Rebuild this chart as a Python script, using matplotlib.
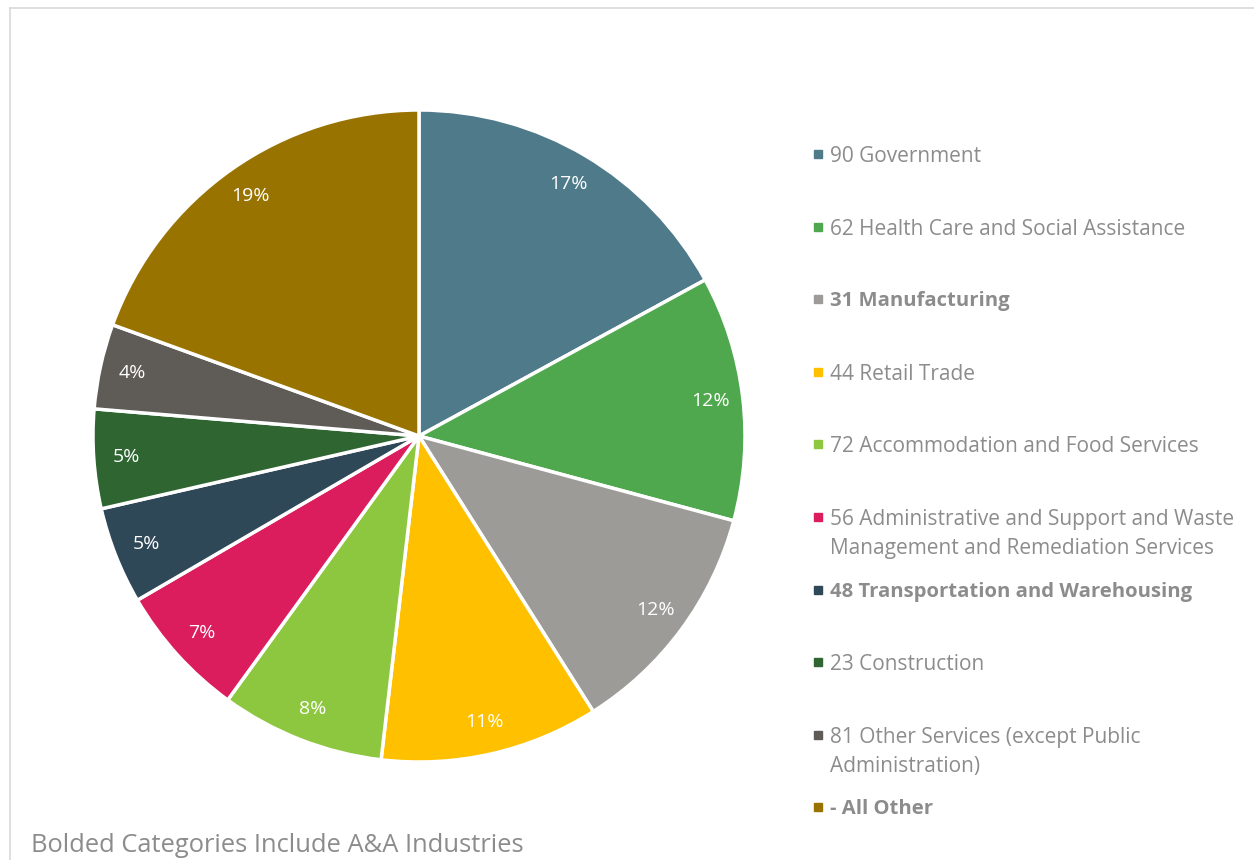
import matplotlib
matplotlib.use("Agg")
import matplotlib.pyplot as plt
from matplotlib.patches import Rectangle
from matplotlib.lines import Line2D

categories = [
    "90 Government",
    "62 Health Care and Social Assistance",
    "31 Manufacturing",
    "44 Retail Trade",
    "72 Accommodation and Food Services",
    "56 Administrative and Support and Waste\nManagement and Remediation Services",
    "48 Transportation and Warehousing",
    "23 Construction",
    "81 Other Services (except Public\nAdministration)",
    "- All Other",
]
values = [17.0, 12.1, 11.8, 10.8, 8.1, 6.6, 4.8, 4.9, 4.2, 19.4]
bolded = [False, False, True, False, False, False, True, False, False, True]
colors = ["#4E7A8A", "#50A84E", "#9D9B98", "#FFC000", "#8DC63F",
          "#DB1C5D", "#2F4858", "#2E6531", "#5F5B57", "#997300"]

W, H = 1254, 860
fig = plt.figure(figsize=(W / 100, H / 100), dpi=100)
fig.patch.set_facecolor("white")

# frame lines (chart area border)
fig.add_artist(Line2D([10 / W, 10 / W], [0, 1 - 8 / H], color="#D9D9D9", lw=1.2))
fig.add_artist(Line2D([10 / W, 1], [1 - 8 / H, 1 - 8 / H], color="#D9D9D9", lw=1.2))

cx, cy, r = 419, 436, 326
ax = fig.add_axes([(cx - r) / W, (H - cy - r) / H, 2 * r / W, 2 * r / H])
wedges, texts, autotexts = ax.pie(
    values, colors=colors, startangle=90, counterclock=False, radius=1,
    autopct="%.0f%%", pctdistance=0.90,
    wedgeprops=dict(edgecolor="white", linewidth=2.5),
    textprops=dict(color="white", fontsize=14, family="Open Sans"),
)
ax.set_xlim(-1.0, 1.0)
ax.set_ylim(-1.0, 1.0)
ax.set_aspect("equal")
ax.axis("off")

# legend drawn manually
y0, step = 154, 72.6
for i, (lab, col, b) in enumerate(zip(categories, colors, bolded)):
    y = y0 + i * step
    fig.add_artist(Rectangle(((814) / W, 1 - (y + 4) / H), 8 / W, 8 / H,
                             color=col, transform=fig.transFigure))
    fig.text(830 / W, 1 - (y - 8) / H, lab, ha="left", va="top",
             fontsize=14.6 if b else 15, color="#8C8C8C", family="Open Sans",
             fontweight="bold" if b else "normal", linespacing=1.5)

fig.text(31 / W, 1 - 846 / H, "Bolded Categories Include A&A Industries",
         ha="left", va="center", fontsize=18.4, color="#8C8C8C", family="Open Sans")

fig.savefig("out.png", dpi=100)
